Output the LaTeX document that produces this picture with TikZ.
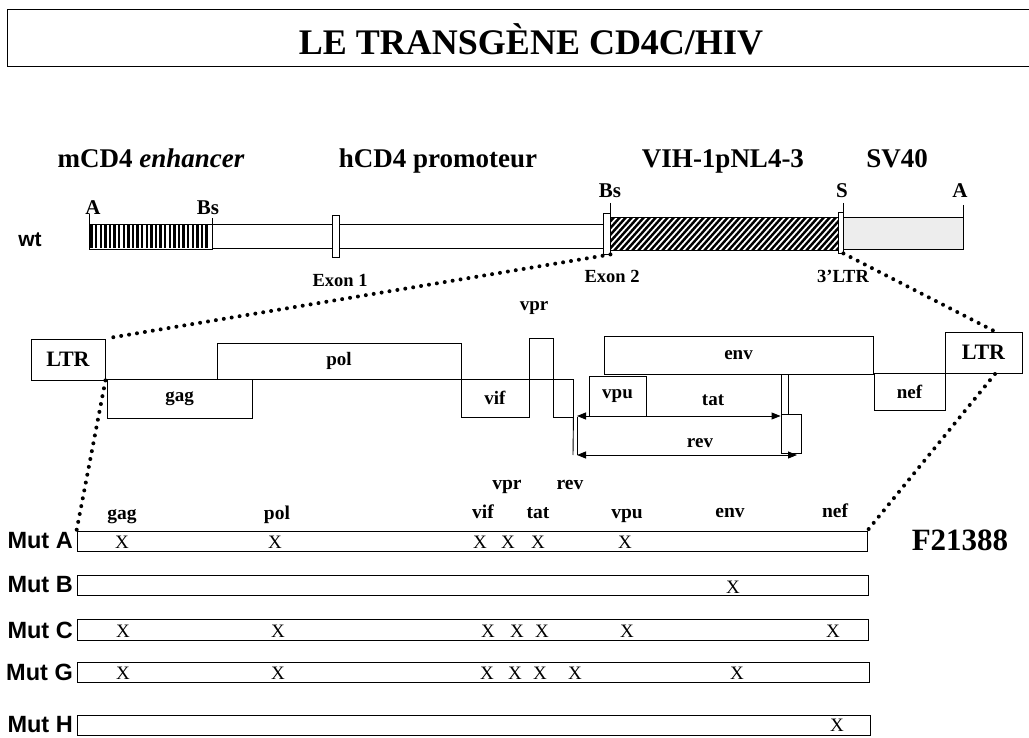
\documentclass[tikz,border=0pt]{standalone}
\usepackage{fontspec}
\setmainfont{Liberation Serif}
\newfontfamily\arialf{Liberation Sans}
\usetikzlibrary{arrows.meta}
\begin{document}
\begin{tikzpicture}[x=1pt,y=-1pt,
  bx/.style={draw, line width=0.9pt, inner sep=0pt, fill=white},
  gl/.style={font=\fontsize{19}{21}\selectfont\bfseries, inner sep=0pt},
  ltrf/.style={font=\fontsize{22}{24}\selectfont\bfseries},
  hdr/.style={font=\fontsize{27}{30}\selectfont\bfseries, inner sep=0pt, anchor=base},
  site/.style={font=\fontsize{21}{23}\selectfont\bfseries, inner sep=0pt, anchor=base},
  exl/.style={font=\fontsize{18.5}{20}\selectfont\bfseries, inner sep=0pt, anchor=base},
  mutl/.style={font=\arialf\fontsize{23.5}{25}\selectfont\bfseries, inner sep=0pt, anchor=east},
  mbar/.style={draw, line width=0.9pt, inner sep=0pt, minimum height=20pt},
  xm/.style={font=\fontsize{19}{20}\selectfont, inner sep=0pt},
  mg/.style={font=\fontsize{19.5}{21}\selectfont\bfseries, inner sep=0pt, anchor=base},
  dots/.style={line width=4pt, dash pattern=on 0pt off 8pt, line cap=round},
  tick/.style={line width=0.9pt},
  arr/.style={line width=0.9pt, {Triangle[length=9pt,width=7pt]}-{Triangle[length=9pt,width=7pt]}}
]
\useasboundingbox (0,0) rectangle (1029,738);

% title
\draw[line width=1pt] (1029,10) -- (7,10) -- (7,67) -- (1029,67);
\node[font=\fontsize{36}{40}\selectfont\bfseries, inner sep=0pt] (title) at (531,39) {LE TRANSGÈNE CD4C/HIV};

% headers
\node[hdr] (h1) at (151,168) {mCD4 \textit{enhancer}};
\node[hdr] (h2) at (438,168) {hCD4 promoteur};
\node[hdr] (h3) at (723,168) {VIH-1pNL4-3};
\node[hdr] (h4) at (897,168) {SV40};

% wt
\node[font=\arialf\fontsize{21}{23}\selectfont\bfseries, inner sep=0pt] (wt) at (30,240) {wt};
% striped enhancer
\draw[line width=0.9pt, fill=white] (89,224) rectangle (212,249);
\foreach \i in {0,...,25} \draw[line width=2.4pt] ({91.5+4.6*\i},224.5) -- ({91.5+4.6*\i},248.5);
\draw[line width=0.9pt] (89,224) rectangle (212,249);
% white promoter
\draw[line width=0.9pt] (212,224) rectangle (603,248);
% hatched HIV
\begin{scope}
\clip (610,217) rectangle (838,250);
\fill (610,217) rectangle (838,250);
\foreach \i in {0,...,46} \draw[white, line width=1.7pt] ({574+6*\i},252) -- ({574+6*\i+33},215);
\end{scope}
\draw[line width=0.9pt] (610,217) rectangle (838,250);
% SV40
\draw[line width=0.9pt, fill=black!7] (843,217) rectangle (963,249);
% exon rectangles
\node[bx, minimum width=7pt, minimum height=42pt] (ex1) at (335.5,236) {};
\node[bx, minimum width=7pt, minimum height=41pt] (ex2) at (606.5,233.5) {};
\node[bx, minimum width=5pt, minimum height=41pt] (ltr3) at (840.5,232.5) {};
% ticks
\draw[tick] (89,214) -- (89,224);
\draw[tick] (212,218) -- (212,224);
\draw[tick] (610,203) -- (610,213);
\draw[tick] (843,203) -- (843,212);
\draw[tick] (963,205) -- (963,217);
% site labels
\node[site] (sA1) at (93,215) {A};
\node[site] (sBs1) at (208,215) {Bs};
\node[site] (sBs2) at (610,198) {Bs};
\node[site] (sS) at (842,198) {S};
\node[site] (sA2) at (960,198) {A};
% exon labels
\node[exl] (lex1) at (340,287) {Exon 1};
\node[exl] (lex2) at (612,283) {Exon 2};
\node[exl] (lltr3) at (843,283) {3'LTR};

% genome map
\node[bx, ltrf, minimum width=74pt, minimum height=41pt] (ltrL) at (68,359.5) {LTR};
\node[bx, gl, minimum width=244pt, minimum height=36pt] (pol) at (339,361) {pol};
\node[bx, gl, minimum width=145pt, minimum height=39pt] (gag) at (179.5,398.5) {gag};
\node[bx, gl, minimum width=68pt, minimum height=38pt] (vif) at (495,398) {vif};
\node[bx, minimum width=24pt, minimum height=41pt] (vprb) at (541,358.5) {};
\node[gl] (vprl) at (534,308) {vpr};
\node[bx, minimum width=20pt, minimum height=38pt] (sb) at (563,398) {};
\node[bx, gl, minimum width=269pt, minimum height=38pt] (env) at (738.5,355) {env};
\node[bx, gl, minimum width=57pt, minimum height=40pt] (vpu) at (617.5,396) {vpu};
\node[bx, minimum width=7pt, minimum height=40pt] (tat2) at (784.5,394) {};
\node[bx, minimum width=20pt, minimum height=39pt] (rev2) at (791,433.5) {};
\node[bx, gl, minimum width=71pt, minimum height=37pt] (nef) at (909.5,391.5) {nef};
\node[bx, ltrf, minimum width=77pt, minimum height=41pt] (ltrR) at (983.5,352.5) {LTR};
\node[gl] (tatl) at (713,400) {tat};
\node[gl] (revl) at (700,443) {rev};
\draw[line width=0.9pt] (sb.south east) -- (573,455);
\draw[line width=0.9pt] (577,417) -- (577,455);
\draw[arr] (577,416) -- (tat2.west |- 0,416);
\draw[arr] (577,455) -- (797,455);

% mutants
\node[mbar, minimum width=790pt] (mutA) at (472,541) {};
\node[mbar, minimum width=791pt] (mutB) at (472.5,585) {};
\node[mbar, minimum width=791pt, minimum height=21pt] (mutC) at (472.5,629.5) {};
\node[mbar, minimum width=792pt] (mutG) at (473,672) {};
\node[mbar, minimum width=793pt] (mutH) at (473.5,725) {};
\node[mutl] (lA) at (73,541) {Mut A};
\node[mutl] (lB) at (73,585) {Mut B};
\node[mutl] (lC) at (73,630) {Mut C};
\node[mutl] (lG) at (73,672) {Mut G};
\node[mutl] (lH) at (73,725) {Mut H};
\node[font=\fontsize{31}{34}\selectfont\bfseries, inner sep=0pt] (fid) at (960,540) {F21388};

% gene labels above mutants
\node[mg] (mvpr) at (507,489) {vpr};
\node[mg] (mrev) at (570,489) {rev};
\node[mg] (mgag) at (122,519) {gag};
\node[mg] (mpol) at (277,519) {pol};
\node[mg] (mvif) at (483,518) {vif};
\node[mg] (mtat) at (538,518) {tat};
\node[mg] (mvpu) at (627,518) {vpu};
\node[mg] (menv) at (730,517) {env};
\node[mg] (mnef) at (835,517) {nef};

% X marks
\foreach \x/\n in {122/a1,275/a2,480/a3,508/a4,538/a5,625/a6} \node[xm] (x\n) at (\x,542) {X};
\node[xm] (xb1) at (733,587) {X};
\foreach \x/\n in {123/c1,278/c2,488/c3,517/c4,542/c5,627/c6,833/c7} \node[xm] (x\n) at (\x,631) {X};
\foreach \x/\n in {123/g1,278/g2,487/g3,515/g4,540/g5,575/g6,737/g7} \node[xm] (x\n) at (\x,673) {X};
\node[xm] (xh1) at (837,725) {X};

% dotted connectors
\coordinate (rTop) at (996,332);
\coordinate (rBot) at (995,374);
\draw[dots] (ex2.south east) -- (ltrL.north east);
\draw[dots] (ltr3.south east) -- (rTop);
\draw[dots] (ltrL.south east) -- (mutA.north west);
\draw[dots] (rBot) -- (mutA.north east);
\end{tikzpicture}
\end{document}
